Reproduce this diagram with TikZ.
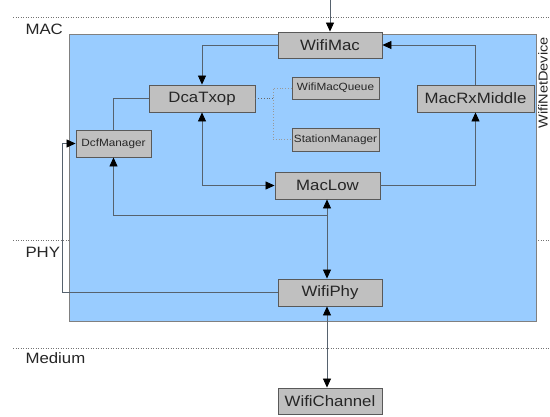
\documentclass[tikz,border=0pt]{standalone}
\usepackage{fontspec}
\setmainfont[FakeStretch=1.12]{Liberation Sans}
\usetikzlibrary{arrows.meta}
\definecolor{devblue}{HTML}{99CCFF}
\definecolor{boxgray}{HTML}{C0C0C0}
\definecolor{linegray}{HTML}{56626E}
\begin{document}
\begin{tikzpicture}[x=1pt,y=-1pt,
	box/.style={draw=black!65,fill=boxgray,line width=0.9pt,text=black!85,font=\fontsize{15}{17}\selectfont,inner sep=0pt},
	smallbox/.style={box,font=\fontsize{10.5}{12}\selectfont},
	conn/.style={draw=linegray,line width=0.8pt},
	arr/.style={conn,-{Triangle[length=9pt,width=8pt,color=black]}},
	dblarr/.style={conn,{Triangle[length=9pt,width=8pt,color=black]}-{Triangle[length=9pt,width=8pt,color=black]}},
	sep/.style={draw=black!55,dotted,line width=0.5pt},
	layer/.style={anchor=west,text=black!85,font=\fontsize{15}{17}\selectfont}]
	\useasboundingbox (0,0) rectangle (550,416);
	% layers
	\draw[sep] (13,17) -- (550,17);
	\draw[sep] (13,240) -- (550,240);
	\draw[sep] (13,348) -- (550,348);
	\node[layer] at (22,29) (mac) {MAC};
	\node[layer] at (22,252) (phy) {PHY};
	\node[layer] at (22,358) (medium) {Medium};
	% device
	\filldraw[fill=devblue,draw=black!50,line width=0.8pt] (69,34) rectangle (536,321);
	\node[rotate=90,text=black!85,font=\fontsize{13}{15}\selectfont] at (543,83) (netdev) {WifiNetDevice};
	% boxes
	\node[box,minimum width=104pt,minimum height=26pt] at (330,45) (wifimac) {WifiMac};
	\node[box,minimum width=106pt,minimum height=27pt] at (202,98.5) (dcatxop) {DcaTxop};
	\node[smallbox,minimum width=75pt,minimum height=27pt] at (113.5,143.5) (dcfmgr) {DcfManager};
	\node[smallbox,minimum width=87pt,minimum height=22pt] at (335.5,88) (queue) {WifiMacQueue};
	\node[smallbox,minimum width=87pt,minimum height=23pt] at (335.5,139.5) (stamgr) {StationManager};
	\node[box,minimum width=117pt,minimum height=27pt] at (475.5,98.5) (rxmiddle) {MacRxMiddle};
	\node[box,minimum width=105pt,minimum height=27pt] at (327.5,185.5) (maclow) {MacLow};
	\node[box,minimum width=104pt,minimum height=27pt] at (330,292.5) (wifiphy) {WifiPhy};
	\node[box,minimum width=104pt,minimum height=26pt] at (330,401) (wifichannel) {WifiChannel};
	\coordinate (top) at (330,0);
	\coordinate (dotx) at (273,98.5);
	\coordinate (tap) at (327,215);
	\coordinate (dcfin) at (62,143.5);
	% connectors
	\draw[arr] (top) -- (wifimac.north);
	\draw[arr] (wifimac.west) -| (dcatxop.north);
	\draw[arr] (rxmiddle.north) |- (wifimac.east);
	\draw[conn] (dcatxop.west) -| (dcfmgr.north);
	\draw[dblarr] (dcatxop.south) |- (maclow.west);
	\draw[arr] (maclow.east) -| (rxmiddle.south);
	\draw[dblarr] (maclow.south -| tap) -- (wifiphy.north -| tap);
	\draw[arr] (tap) -| (dcfmgr.south);
	\draw[arr] (wifiphy.west) -| (dcfin) -- (dcfmgr.west);
	\draw[dblarr] (wifiphy.south -| tap) -- (wifichannel.north -| tap);
	\draw[conn,dotted,draw=black!60] (dcatxop.east) -- (dotx);
	\draw[conn,dotted,draw=black!40] (queue.west) -| (dotx |- stamgr.west) -- (stamgr.west);
\end{tikzpicture}
\end{document}
